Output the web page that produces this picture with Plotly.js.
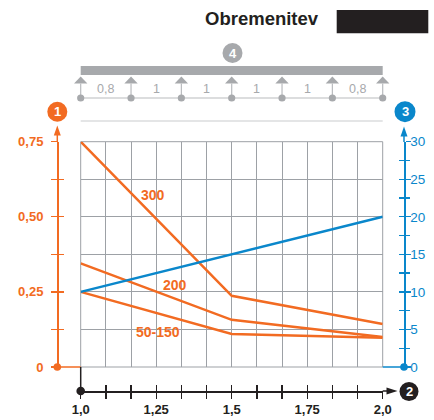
<!DOCTYPE html>
<html>
<head>
<meta charset="utf-8">
<script src="https://cdn.plot.ly/plotly-3.0.1.min.js"></script>
<style>html,body{margin:0;padding:0;background:#fff;}#chart{width:434px;height:420px;}</style>
</head>
<body>
<div id="chart"></div>
<script>
// ---- data ----
const xVals = [1.0, 1.5, 2.0];
const load300 = [0.75, 0.237, 0.143];
const load200 = [0.345, 0.157, 0.100];
const load50_150 = [0.25, 0.110, 0.097];
const blueVals = [10, 15, 20];
const seriesNames = ['300', '200', '50-150'];
const labelX = [1.239, 1.312, 1.256];
const labelY = [0.573, 0.273, 0.1165];
const leftTickVals = [0, 0.25, 0.5, 0.75];
const leftTickText = ['0', '0,25', '0,50', '0,75'];
const bottomTickVals = [1.0, 1.25, 1.5, 1.75, 2.0];
const bottomTickText = ['1,0', '1,25', '1,5', '1,75', '2,0'];
const beamSpans = ['0,8', '1', '1', '1', '1', '0,8'];
const titleText = 'Obremenitev';

// ---- layout helpers ----
const Wd = 434, Ht = 420, L = 57, R = 30, T = 0, B = 29;
const PW = Wd - L - R, PH = Ht - T - B;
const px = x => (x - L) / PW;
const py = y => (Ht - B - y) / PH;
const ORANGE = '#f26b22', BLUE = '#0a87cb', GRID = '#9da1a6', GRAY = '#a7a9ac', DARK = '#231f20';
const gx0 = 80.7, gx1 = 382.7, gy0 = 367, gy1 = 141.7;
const xDom = [px(gx0), px(gx1)];
const yDom = [py(gy0), py(gy1)];

const shapes = [];
const ann = [];
function line(x0, y0, x1, y1, color, w, layer) {
  shapes.push({type: 'line', xref: 'paper', yref: 'paper', x0: px(x0), y0: py(y0), x1: px(x1), y1: py(y1),
    line: {color: color, width: w}, layer: layer || 'above'});
}
function circle(cx, cy, r, color) {
  shapes.push({type: 'circle', xref: 'paper', yref: 'paper', x0: px(cx - r), x1: px(cx + r), y0: py(cy + r), y1: py(cy - r),
    fillcolor: color, line: {width: 0}, layer: 'above'});
}
function tri(pts, color) {
  const d = 'M' + pts.map(p => px(p[0]) + ',' + py(p[1])).join('L') + 'Z';
  shapes.push({type: 'path', xref: 'paper', yref: 'paper', path: d, fillcolor: color, line: {width: 0}, layer: 'above'});
}
function badge(cx, cy, r, color, txt) {
  circle(cx, cy, r, color);
  ann.push({xref: 'paper', yref: 'paper', x: px(cx), y: py(cy), text: '<b>' + txt + '</b>', showarrow: false,
    xanchor: 'center', yanchor: 'middle', font: {family: 'Liberation Sans, Arial', size: 13, color: '#fff'}});
}

// grid border
shapes.push({type: 'rect', xref: 'paper', yref: 'paper', x0: px(gx0), x1: px(gx1), y0: py(gy0), y1: py(gy1),
  line: {color: GRID, width: 1}, layer: 'below'});

// title block
ann.push({xref: 'paper', yref: 'paper', x: px(261.5), y: py(19), text: '<b>' + titleText + '</b>', showarrow: false,
  xanchor: 'center', yanchor: 'middle', font: {family: 'Liberation Sans, Arial', size: 18.5, color: DARK}});
shapes.push({type: 'rect', xref: 'paper', yref: 'paper', x0: px(336.7), x1: px(428.3), y0: py(33.3), y1: py(10),
  fillcolor: DARK, line: {width: 0}});

// beam diagram
shapes.push({type: 'rect', xref: 'paper', yref: 'paper', x0: px(gx0), x1: px(gx1), y0: py(75), y1: py(66),
  fillcolor: GRAY, line: {width: 0}});
line(gx0, 98, gx1, 98, '#b9bbbe', 1.2);
const nSup = beamSpans.length + 1;
const step = (gx1 - gx0) / beamSpans.length;
for (let i = 0; i < nSup; i++) {
  const xc = gx0 + i * step;
  tri([[xc, 76.5], [xc - 6.7, 83.5], [xc + 6.7, 83.5]], GRAY);
  line(xc, 83.5, xc, 98, '#b9bbbe', 1.2);
  circle(xc, 98, 3.6, GRAY);
}
beamSpans.forEach((s, i) => {
  ann.push({xref: 'paper', yref: 'paper', x: px(gx0 + (i + 0.5) * step), y: py(89), text: s, showarrow: false,
    xanchor: 'center', yanchor: 'middle', font: {family: 'Liberation Sans, Arial', size: 12.5, color: GRAY}});
});
badge(232.5, 53, 10, GRAY, '4');
line(gx0, 121, gx1, 121, '#c9cbcd', 1.2);

// left axis decorations
line(57.3, 142, 57.3, 134, ORANGE, 1.5);
tri([[57.3, 125.5], [53.8, 135.5], [60.8, 135.5]], ORANGE);
badge(57.3, 111.7, 10, ORANGE, '1');
line(57.3, gy0, gx0, gy0, ORANGE, 1.5);
circle(57.3, gy0, 3.8, ORANGE);

// right axis decorations
line(404, 142, 404, 135, BLUE, 1.5);
tri([[404, 126.5], [400.5, 136.5], [407.5, 136.5]], BLUE);
badge(405, 111.7, 10.5, BLUE, '3');
line(gx1, gy0, 404, gy0, BLUE, 1.5);
circle(404, gy0, 3.8, BLUE);

// bottom axis decorations
line(gx1, 391, 388, 391, DARK, 1.5);
tri([[397.5, 391], [386.5, 387.5], [386.5, 394.5]], DARK);
badge(409, 391.5, 9.5, DARK, '2');
line(gx0, gy0, gx0, 391, DARK, 1.5);
circle(gx0, 391, 4.3, DARK);

// series labels
seriesNames.forEach((n, i) => {
  ann.push({xref: 'x', yref: 'y', x: labelX[i], y: labelY[i], text: '<b>' + n + '</b>', showarrow: false,
    xanchor: 'center', yanchor: 'middle', font: {family: 'Liberation Sans, Arial', size: 14, color: ORANGE}});
});

const orangeLine = {color: ORANGE, width: 2.5};
const traces = [
  {x: xVals, y: load300, name: '300', mode: 'lines', line: orangeLine, cliponaxis: false, xaxis: 'x', yaxis: 'y'},
  {x: xVals, y: load200, name: '200', mode: 'lines', line: orangeLine, cliponaxis: false, xaxis: 'x', yaxis: 'y'},
  {x: xVals, y: load50_150, name: '50-150', mode: 'lines', line: orangeLine, cliponaxis: false, xaxis: 'x', yaxis: 'y'},
  {x: xVals, y: blueVals, name: 'blue', mode: 'lines', line: {color: BLUE, width: 2.5}, cliponaxis: false, xaxis: 'x', yaxis: 'y2'},
  {x: [null], y: [null], mode: 'lines', xaxis: 'x2', yaxis: 'y3', hoverinfo: 'skip'},
  {x: [null], y: [null], mode: 'lines', xaxis: 'x', yaxis: 'y4', hoverinfo: 'skip'}
];

const font = {family: 'Liberation Sans, Arial', size: 13};
const layout = {
  width: Wd, height: Ht,
  margin: {l: L, r: R, t: T, b: B, pad: 0},
  showlegend: false,
  paper_bgcolor: '#fff', plot_bgcolor: 'rgba(0,0,0,0)',
  font: font,
  xaxis: {
    domain: xDom, range: [1, 2], anchor: 'free', position: 0, zeroline: false,
    tickmode: 'array', tickvals: bottomTickVals, ticktext: bottomTickText,
    ticks: 'outside', ticklen: 6, tickwidth: 1.3, tickcolor: DARK,
    showline: true, linecolor: DARK, linewidth: 1.5,
    showgrid: true, gridcolor: GRID, gridwidth: 1,
    minor: {tickmode: 'linear', tick0: 1, dtick: 1 / 12, ticks: 'outside', ticklen: 6, tickwidth: 1.3, tickcolor: DARK,
      showgrid: true, gridcolor: GRID, gridwidth: 1},
    tickfont: {family: 'Liberation Sans, Arial', size: 13, color: DARK, weight: 'bold'}
  },
  xaxis2: {
    domain: xDom, range: [1, 2], overlaying: 'x', anchor: 'free', position: 0, zeroline: false,
    tickmode: 'linear', tick0: 1, dtick: 1 / 12, ticks: 'inside', ticklen: 6, tickwidth: 1.3, tickcolor: DARK,
    showticklabels: false, showgrid: false, showline: false
  },
  yaxis: {
    domain: yDom, range: [0, 0.75], anchor: 'free', position: 0, side: 'left', zeroline: false,
    tickmode: 'array', tickvals: leftTickVals, ticktext: leftTickText,
    ticks: 'outside', ticklen: 6, tickwidth: 1.3, tickcolor: ORANGE,
    showline: true, linecolor: ORANGE, linewidth: 1.5,
    showgrid: true, gridcolor: GRID, gridwidth: 1,
    minor: {tickmode: 'linear', tick0: 0, dtick: 0.125, ticks: 'outside', ticklen: 6, tickwidth: 1.3, tickcolor: ORANGE,
      showgrid: true, gridcolor: GRID, gridwidth: 1},
    ticklabelstandoff: 5,
    tickfont: {family: 'Liberation Sans, Arial', size: 13, color: ORANGE, weight: 'bold'}
  },
  yaxis3: {
    domain: yDom, range: [0, 0.75], overlaying: 'y', anchor: 'free', position: 0, side: 'left', zeroline: false,
    tickmode: 'linear', tick0: 0, dtick: 0.125, ticks: 'inside', ticklen: 6, tickwidth: 1.3, tickcolor: ORANGE,
    showticklabels: false, showgrid: false, showline: false
  },
  yaxis2: {
    domain: yDom, range: [0, 30], overlaying: 'y', anchor: 'free', position: 1, side: 'right', zeroline: false,
    tickmode: 'linear', tick0: 0, dtick: 5,
    ticks: 'outside', ticklen: 5, tickwidth: 1.3, tickcolor: BLUE,
    showline: true, linecolor: BLUE, linewidth: 1.5, showgrid: false,
    minor: {tickmode: 'linear', tick0: 0, dtick: 2.5, ticks: 'outside', ticklen: 4, tickwidth: 1.3, tickcolor: BLUE},
    ticklabelstandoff: -3,
    tickfont: {family: 'Liberation Sans, Arial', size: 13.5, color: BLUE}
  },
  yaxis4: {
    domain: yDom, range: [0, 30], overlaying: 'y', anchor: 'free', position: 1, side: 'right', zeroline: false,
    tickmode: 'linear', tick0: 0, dtick: 2.5, ticks: 'inside', ticklen: 5, tickwidth: 1.3, tickcolor: BLUE,
    showticklabels: false, showgrid: false, showline: false
  },
  shapes: shapes,
  annotations: ann
};

Plotly.newPlot('chart', traces, layout, {staticPlot: true, displayModeBar: false});
</script>
</body>
</html>
